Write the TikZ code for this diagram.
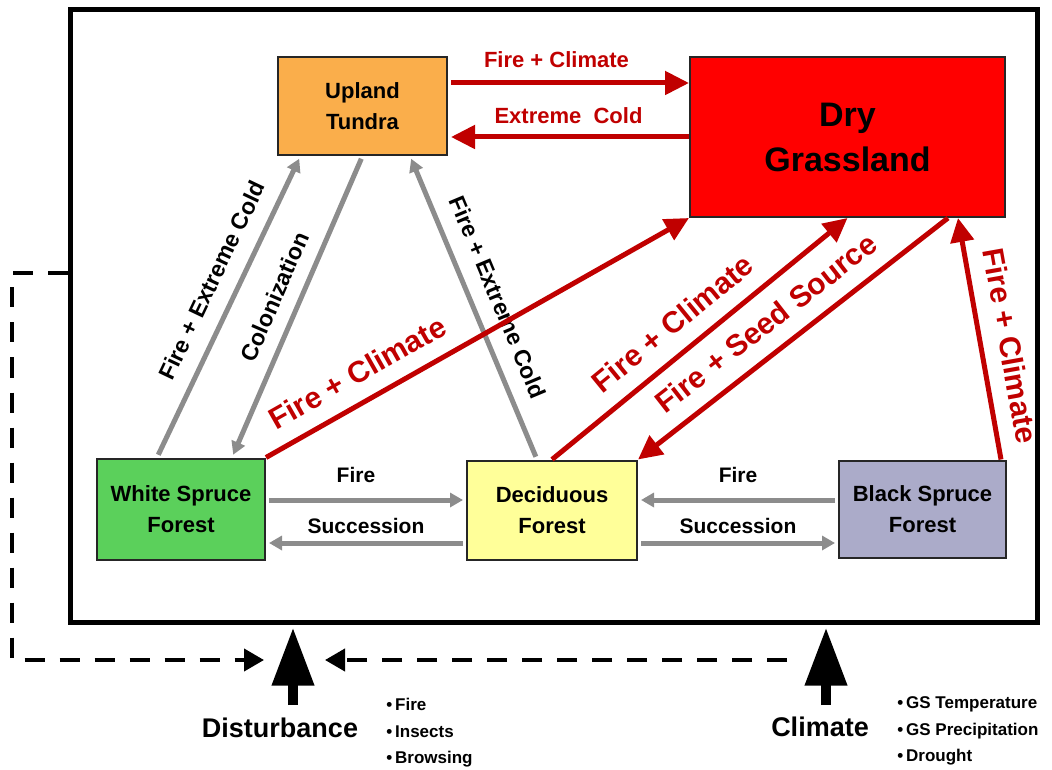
\documentclass[tikz,border=0pt]{standalone}
\usepackage{fontspec}
\setmainfont{Liberation Sans}
\usepackage{tikz}
\usetikzlibrary{arrows.meta, calc, positioning}
\definecolor{tundra}{HTML}{FAAE4B}
\definecolor{grass}{HTML}{FF0000}
\definecolor{whitespruce}{HTML}{5BD05B}
\definecolor{decid}{HTML}{FFFF99}
\definecolor{blackspruce}{HTML}{ABABC9}
\definecolor{firered}{HTML}{C00000}
\definecolor{succgrey}{HTML}{8C8C8C}

\begin{document}
\begin{tikzpicture}[x=0.5pt, y=-0.5pt,
    state/.style={draw=black!85, line width=1pt, align=center, font=\bfseries\fontsize{11}{15.5}\selectfont},
    redarr/.style={draw=firered, line width=2.5pt, -{Triangle[length=12pt,width=11.5pt]}},
    greyarr/.style={draw=succgrey, line width=2.5pt, shorten <=1.5pt, shorten >=1.5pt, -{Triangle[length=6.5pt,width=7pt]}},
    redlbl/.style={text=firered, font=\bfseries\fontsize{11}{13}\selectfont},
    biglbl/.style={text=firered, font=\bfseries\fontsize{15}{18}\selectfont},
    slantlbl/.style={font=\bfseries\fontsize{11.5}{14}\selectfont},
    flatlbl/.style={font=\bfseries\fontsize{10.5}{13}\selectfont},
    feedback/.style={line width=2pt, dash pattern=on 10pt off 7.5pt, -{Triangle[length=10pt,width=11pt]}},
    driver/.style={line width=5pt, shorten >=1.5pt, -{Triangle[length=29pt,width=20pt]}},
    drivelbl/.style={font=\bfseries\fontsize{13.5}{16}\selectfont},
    bullets/.style={anchor=west, align=left, inner sep=0pt, font=\bfseries\fontsize{8.5}{13.25}\selectfont}]

    \useasboundingbox (0,0) rectangle (1052,769);

    \node[draw, line width=2.5pt, minimum width=483.5pt, minimum height=306pt] (frame) at (553.5,316) {};

    \node[state, fill=tundra, minimum width=84.5pt, minimum height=49pt] (ut) at (362.5,106) {Upland\\Tundra};
    \node[state, fill=grass, minimum width=157.5pt, minimum height=80pt, font=\bfseries\fontsize{17}{22.5}\selectfont] (dg) at (847.5,137) {Dry\\Grassland};
    \node[state, fill=whitespruce, minimum width=84pt, minimum height=50.5pt] (ws) at (181,509) {White Spruce\\Forest};
    \node[state, fill=decid, minimum width=85pt, minimum height=49.5pt] (df) at (552,510) {Deciduous\\Forest};
    \node[state, fill=blackspruce, minimum width=83.5pt, minimum height=48.5pt] (bs) at (922.5,509) {Black Spruce\\Forest};

    \draw[redarr, shorten <=1.5pt] ([yshift=11.5pt]ut.east) -- ([yshift=27pt]dg.west) node[pos=0.45, above=3pt, redlbl] {Fire + Climate};
    \draw[redarr, shorten >=1.5pt] (dg.west) -- ([yshift=-15.5pt]ut.east) node[midway, above=2pt, redlbl] {Extreme~~Cold};

    \draw[greyarr] ([xshift=-12pt]ws.north) -- ([xshift=-31pt]ut.south) node[pos=0.55, sloped, above=4.5pt, slantlbl] {Fire + Extreme Cold};
    \draw[greyarr] (ut.south) -- ([xshift=25.5pt]ws.north) node[midway, sloped, above=3.5pt, slantlbl] {Colonization};
    \draw[greyarr] ([xshift=-7.5pt]df.north) -- ([xshift=23.75pt]ut.south) node[midway, sloped, above=4.5pt, slantlbl] {Fire + Extreme Cold};

    \draw[redarr] (ws.north east) -- (dg.south west) node[pos=0.25, sloped, above=4.5pt, biglbl] {Fire + Climate};
    \draw[redarr] (df.north) -- (dg.south) node[pos=0.47, sloped, above=4.5pt, biglbl] {Fire + Climate};
    \draw[redarr] ([xshift=50.25pt]dg.south) -- (df.north east) node[pos=0.53, sloped, above=4.5pt, biglbl] {Fire + Seed Source};
    \draw[redarr] ([xshift=-3pt]bs.north east) -- ([xshift=55.25pt]dg.south) node[pos=0.45, sloped, above=4.5pt, biglbl] {Fire + Climate};

    \draw[greyarr] ([yshift=4.5pt]ws.east) -- ([yshift=5pt]df.west) node[pos=0.45, above=4pt, flatlbl] {Fire};
    \draw[greyarr] ([yshift=-16.5pt]df.west) -- ([yshift=-17pt]ws.east) node[midway, above, flatlbl] {Succession};
    \draw[greyarr] ([yshift=4.5pt]bs.west) -- ([yshift=5pt]df.east) node[midway, above=4pt, flatlbl] {Fire};
    \draw[greyarr] ([yshift=-16.5pt]df.east) -- ([yshift=-17pt]bs.west) node[midway, above, flatlbl] {Succession};

    % drivers below the frame
    \coordinate (dbase) at (293,705);
    \coordinate (cbase) at (826,705);
    \draw[driver] (dbase) -- (dbase |- frame.south);
    \draw[driver] (cbase) -- (cbase |- frame.south);
    \node[drivelbl] (dist) at (280,728) {Disturbance};
    \node[drivelbl] (clim) at (820,727) {Climate};
    \node[bullets] (distlist) at (386,733) {•\,Fire\\•\,Insects\\•\,Browsing};
    \node[bullets] (climlist) at (897,731) {•\,GS Temperature\\•\,GS Precipitation\\•\,Drought};

    \coordinate (fbcorner) at (12,660);
    \coordinate (dleft) at (264,660);
    \coordinate (dright) at (325,660);
    \coordinate (cstart) at (787,660);
    \draw[feedback] ([yshift=21.5pt]frame.west) -| (fbcorner) -- (dleft);
    \draw[feedback] (cstart) -- (dright);

\end{tikzpicture}
\end{document}
